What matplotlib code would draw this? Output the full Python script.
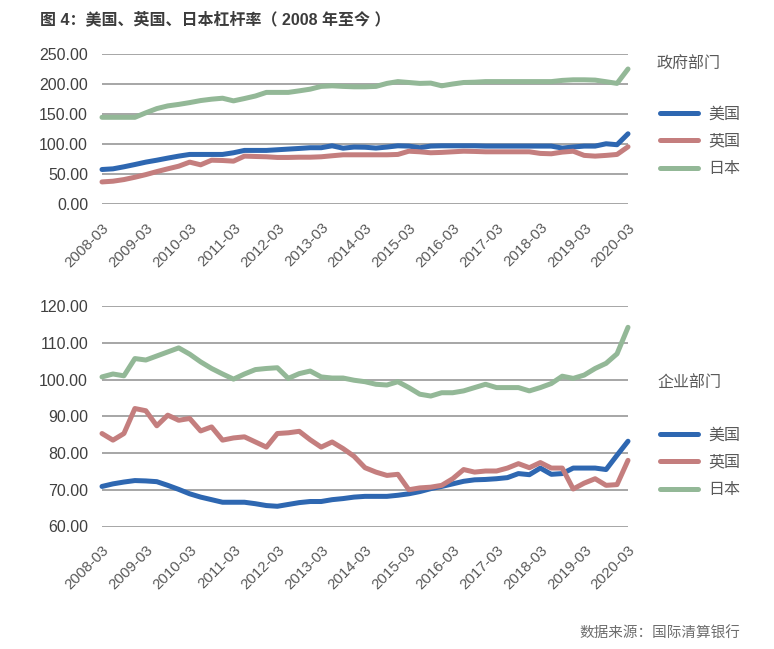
import matplotlib
matplotlib.use("Agg")
import matplotlib.pyplot as plt
import numpy as np

plt.rcParams['font.family'] = ['Liberation Sans', 'Noto Sans CJK SC', 'DejaVu Sans']

tick_labels = ["2008-03", "2009-03", "2010-03", "2011-03", "2012-03", "2013-03", "2014-03",
               "2015-03", "2016-03", "2017-03", "2018-03", "2019-03", "2020-03"]
series_names = ["美国", "英国", "日本"]

gov_us = [57.5, 58.6, 62, 65.8, 69.8, 73, 76.5, 79.8, 82.6, 82.6,
          82.6, 82.6, 85.4, 89.3, 89.3, 89.3, 90.4, 91.5, 92.6, 93.8,
          93.8, 97, 93, 94.9, 94.6, 93.2, 94.9, 97, 96.5, 93.8,
          96.5, 97, 97, 97, 97, 96.5, 96.5, 96.5, 96.5, 96.5,
          96.5, 96.5, 93.2, 95, 96.5, 96.5, 100.4, 98.8, 117]
gov_uk = [36.8, 38, 40.7, 44.6, 49, 54, 58.6, 63, 69.8, 65.3,
          73, 72.5, 71.4, 79.8, 79.2, 78.7, 77.6, 77.6, 78, 78,
          78.7, 80.4, 82, 82, 82, 82, 82, 82.6, 88, 87,
          85.4, 86, 87, 88, 87.6, 87, 87, 87, 87, 87,
          84.3, 83.7, 86.5, 88, 81, 79.8, 81, 82.6, 95.4]
gov_jp = [144.5, 144.5, 144.5, 144.5, 152, 159, 163.5, 166, 169, 172.4,
          174.7, 176.3, 171.9, 175.8, 180, 186, 186, 186, 188.6, 191.4,
          196, 197, 196, 195.3, 195.3, 196, 201, 204, 202.5, 201,
          201.5, 197, 200, 202.5, 203, 204, 204, 204, 204, 204,
          204, 204, 206, 207, 207, 206.5, 203.8, 201, 225]

corp_us = [70.9, 71.6, 72.1, 72.5, 72.4, 72.2, 71.2, 70.1, 68.9, 68,
           67.3, 66.6, 66.6, 66.6, 66.2, 65.7, 65.5, 66, 66.5, 66.8,
           66.8, 67.3, 67.6, 68, 68.2, 68.2, 68.2, 68.5, 68.9, 69.5,
           70.3, 70.9, 71.6, 72.3, 72.7, 72.8, 73, 73.3, 74.4, 74.1,
           75.9, 74.2, 74.4, 75.9, 75.9, 75.9, 75.5, 79.4, 83.2]
corp_uk = [85.3, 83.5, 85.3, 92.1, 91.5, 87.4, 90.3, 88.9, 89.4, 86,
           87.1, 83.5, 84.1, 84.4, 83, 81.6, 85.3, 85.5, 85.9, 83.6,
           81.6, 83, 81.2, 79.1, 76, 74.8, 73.9, 74.2, 70, 70.5,
           70.7, 71.2, 73, 75.5, 74.8, 75.1, 75.1, 75.9, 77.1, 76,
           77.4, 75.9, 75.9, 70.2, 71.8, 73, 71.2, 71.4, 78]
corp_jp = [100.7, 101.5, 101, 105.7, 105.3, 106.4, 107.5, 108.6, 106.9, 104.8,
           103, 101.5, 100.1, 101.5, 102.7, 103, 103.2, 100.3, 101.6, 102.3,
           100.7, 100.4, 100.4, 99.8, 99.4, 98.7, 98.5, 99.4, 97.8, 96,
           95.5, 96.4, 96.4, 96.9, 97.8, 98.7, 97.8, 97.8, 97.8, 96.9,
           97.8, 98.9, 100.9, 100.3, 101.2, 103, 104.4, 107, 114.2]

colors = ["#2E67B1", "#C47E7E", "#93B897"]
grid_c = "#8E8E8E"
tick_c = "#404040"
label_c = "#595959"

W, H = 774, 649
fig = plt.figure(figsize=(W / 100, H / 100), dpi=100)
fig.patch.set_facecolor("white")

def fx(px):
    return px / W

def fy(py):
    return 1 - py / H

def make_axes(top, bottom, ylim, yticks, data, title, title_y, leg_y):
    ax = fig.add_axes([fx(102), fy(bottom), fx(628) - fx(102), fy(top) - fy(bottom)])
    x = np.arange(len(data[0]))
    lines = []
    for vals, c, n in zip(data, colors, series_names):
        ln, = ax.plot(x, vals, color=c, lw=3.6, solid_capstyle='round', solid_joinstyle='round', label=n)
        lines.append(ln)
    ax.set_xlim(0, len(x) - 1)
    ax.set_ylim(*ylim)
    ax.set_yticks(yticks)
    ax.set_yticklabels([f"{v:.2f}" for v in yticks], color=tick_c, fontsize=11.5)
    ax.set_xticks(x[::4])
    ax.set_xticklabels(tick_labels, rotation=45, ha='right', rotation_mode='anchor',
                       color=label_c, fontsize=10.8)
    ax.tick_params(axis='both', length=0)
    ax.tick_params(axis='y', pad=10)
    ax.tick_params(axis='x', pad=12)
    ax.grid(axis='y', color=grid_c, lw=1.1)
    ax.set_axisbelow(True)
    for s in ax.spines.values():
        s.set_visible(False)
    for ln in lines:
        ln.set_clip_on(False)
    fig.text(fx(657), fy(title_y), title, fontsize=11.5, color=label_c, va='center', ha='left')
    leg = fig.legend(handles=lines, loc='upper left', bbox_to_anchor=(fx(654), fy(leg_y)),
                     frameon=False, fontsize=11.5, handlelength=2.35, handletextpad=0.65,
                     labelspacing=0.78, borderaxespad=0)
    for t in leg.get_texts():
        t.set_color(label_c)
    return ax

make_axes(54, 204, (0, 250), [0, 50, 100, 150, 200, 250],
          [gov_us, gov_uk, gov_jp], "政府部门", 64, 100)
make_axes(306, 526.5, (60, 120), [60, 70, 80, 90, 100, 110, 120],
          [corp_us, corp_uk, corp_jp], "企业部门", 383, 421)

fig.text(fx(40), fy(19), "图 4：美国、英国、日本杠杆率（ 2008 年至今 ）", fontsize=11.5,
         fontweight='bold', color="#3C3C3C", va='center', ha='left')
fig.text(fx(740), fy(634), "数据来源：国际清算银行", fontsize=10.5, color="#6E6E6E",
         va='center', ha='right')

fig.savefig("out.png", dpi=100)
